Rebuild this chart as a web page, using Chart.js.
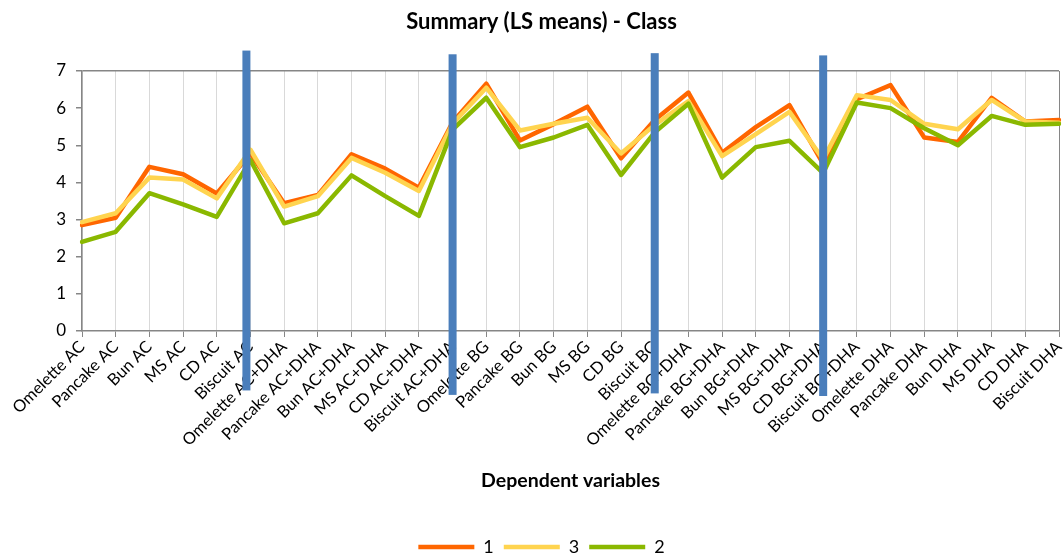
<!DOCTYPE html>
<html>
<head>
<meta charset="utf-8">
<script src="https://cdn.jsdelivr.net/npm/chart.js@4/dist/chart.umd.min.js"></script>
<style>
  html, body { margin: 0; padding: 0; background: #fff; }
  #wrap { width: 1063px; height: 555px; }
</style>
</head>
<body>
<div id="wrap"><canvas id="c" width="1063" height="555"></canvas></div>
<script>
const categories = ['Omelette AC','Pancake AC','Bun AC','MS AC','CD AC','Biscuit AC',
  'Omelette AC+DHA','Pancake AC+DHA','Bun AC+DHA','MS AC+DHA','CD AC+DHA','Biscuit AC+DHA',
  'Omelette BG','Pancake BG','Bun BG','MS BG','CD BG','Biscuit BG',
  'Omelette BG+DHA','Pancake BG+DHA','Bun BG+DHA','MS BG+DHA','CD BG+DHA','Biscuit BG+DHA',
  'Omelette DHA','Pancake DHA','Bun DHA','MS DHA','CD DHA','Biscuit DHA'];
const series1 = [2.85,3.05,4.42,4.22,3.70,4.78,3.44,3.66,4.76,4.37,3.86,5.62,6.66,5.13,5.57,6.04,4.65,5.68,6.42,4.80,5.49,6.08,4.50,6.24,6.62,5.21,5.09,6.28,5.64,5.68];
const series3 = [2.93,3.17,4.13,4.08,3.57,4.88,3.35,3.63,4.66,4.26,3.77,5.58,6.55,5.40,5.58,5.74,4.78,5.55,6.19,4.71,5.30,5.90,4.62,6.35,6.22,5.58,5.43,6.22,5.64,5.61];
const series2 = [2.40,2.67,3.71,3.41,3.07,4.60,2.90,3.17,4.19,3.63,3.10,5.42,6.28,4.95,5.21,5.55,4.20,5.35,6.12,4.13,4.95,5.12,4.25,6.15,6.00,5.46,5.00,5.79,5.55,5.58];
const yTicks = [0,1,2,3,4,5,6,7];
// separator bars: category position, and value range they span
const separatorAt = [4.88, 11, 17, 22];
const separatorTop = [7.55, 7.45, 7.48, 7.42];
const separatorBottom = [-1.6, -1.72, -1.68, -1.75];

const FONT = 'Lato, "Open Sans", sans-serif';
const PLOT_BOTTOM = 331;
const PAD_LEFT = 24;
const LEGEND_PAD = 10;
const LEGEND_FONT = 18;
const LEGEND_CENTER_Y = 547;

const separators = {
  id: 'separators',
  afterDraw(chart) {
    const {ctx, scales: {x, y}} = chart;
    ctx.save();
    ctx.fillStyle = '#4a7ebb';
    separatorAt.forEach((p, i) => {
      const px = x.getPixelForValue(p);
      const t = y.getPixelForValue(separatorTop[i]);
      const b = y.getPixelForValue(separatorBottom[i]);
      ctx.fillRect(px - 4, t, 8, b - t);
    });
    ctx.restore();
  }
};

const legendPlace = {
  id: 'legendPlace',
  afterLayout(chart) {
    const L = chart.legend;
    if (!L) return;
    const h = L.bottom - L.top;
    L.top = LEGEND_CENTER_Y - LEGEND_PAD - LEGEND_FONT / 2;
    L.bottom = L.top + h;
  }
};

const mk = (label, data, color, order) => ({
  label, data, borderColor: color, backgroundColor: color,
  borderWidth: 4.5, pointRadius: 0, pointHoverRadius: 0, tension: 0,
  borderJoinStyle: 'round', borderCapStyle: 'round', order, fill: false
});

new Chart(document.getElementById('c'), {
  type: 'line',
  data: {
    labels: categories,
    datasets: [
      mk('1', series1, '#ff6600', 3),
      mk('3', series3, '#ffd44f', 2),
      mk('2', series2, '#8ab800', 1)
    ]
  },
  plugins: [separators, legendPlace],
  options: {
    responsive: false,
    animation: false,
    devicePixelRatio: 1,
    layout: { padding: { left: PAD_LEFT, right: 4, top: 0, bottom: 0 } },
    plugins: {
      title: {
        display: true,
        text: 'Summary (LS means) - Class',
        color: '#000',
        font: { family: FONT, size: 22, weight: 'bold', lineHeight: 1.2 },
        padding: { top: 8.8, bottom: 35.8 }
      },
      legend: {
        display: true,
        position: 'bottom',
        labels: {
          color: '#000',
          font: { family: FONT, size: LEGEND_FONT, lineHeight: 1 },
          usePointStyle: true,
          pointStyle: 'line',
          pointStyleWidth: 56,
          boxHeight: 14,
          padding: LEGEND_PAD,
          sort: (a, b) => a.datasetIndex - b.datasetIndex
        }
      },
      tooltip: { enabled: false }
    },
    scales: {
      x: {
        type: 'category',
        offset: false,
        afterFit(scale) {
          const lh = scale.chart.legend ? scale.chart.legend.height : 0;
          scale.height = scale.chart.height - PLOT_BOTTOM - lh;
          scale.paddingLeft = 0;
          scale.paddingRight = 0;
        },
        grid: {
          display: true,
          drawOnChartArea: true,
          color: (c) => (c.index === categories.length - 1 ? '#868686' : '#d9d9d9'),
          tickColor: '#868686',
          tickLength: 6,
          lineWidth: 1
        },
        border: { display: true, color: '#868686', width: 1.5 },
        ticks: {
          color: '#000',
          font: { family: FONT, size: 16.5 },
          minRotation: 45,
          maxRotation: 45,
          autoSkip: false,
          padding: 0
        },
        title: {
          display: true,
          text: 'Dependent variables',
          color: '#000',
          font: { family: FONT, size: 19.5, weight: 'bold', lineHeight: 1.2 },
          padding: { top: 0, bottom: 25 }
        }
      },
      y: {
        min: 0,
        max: 7,
        afterFit(scale) { scale.width = 82 - PAD_LEFT; },
        afterBuildTicks(scale) { scale.ticks = yTicks.map(v => ({ value: v })); },
        grid: {
          display: true,
          drawOnChartArea: true,
          color: (c) => (c.tick && c.tick.value === 7 ? '#868686' : 'rgba(0,0,0,0)'),
          tickColor: '#868686',
          tickLength: 6,
          lineWidth: 1.5
        },
        border: { display: true, color: '#868686', width: 1.5 },
        ticks: {
          color: '#000',
          font: { family: FONT, size: 17 },
          padding: 10
        }
      }
    }
  }
});
</script>
</body>
</html>
